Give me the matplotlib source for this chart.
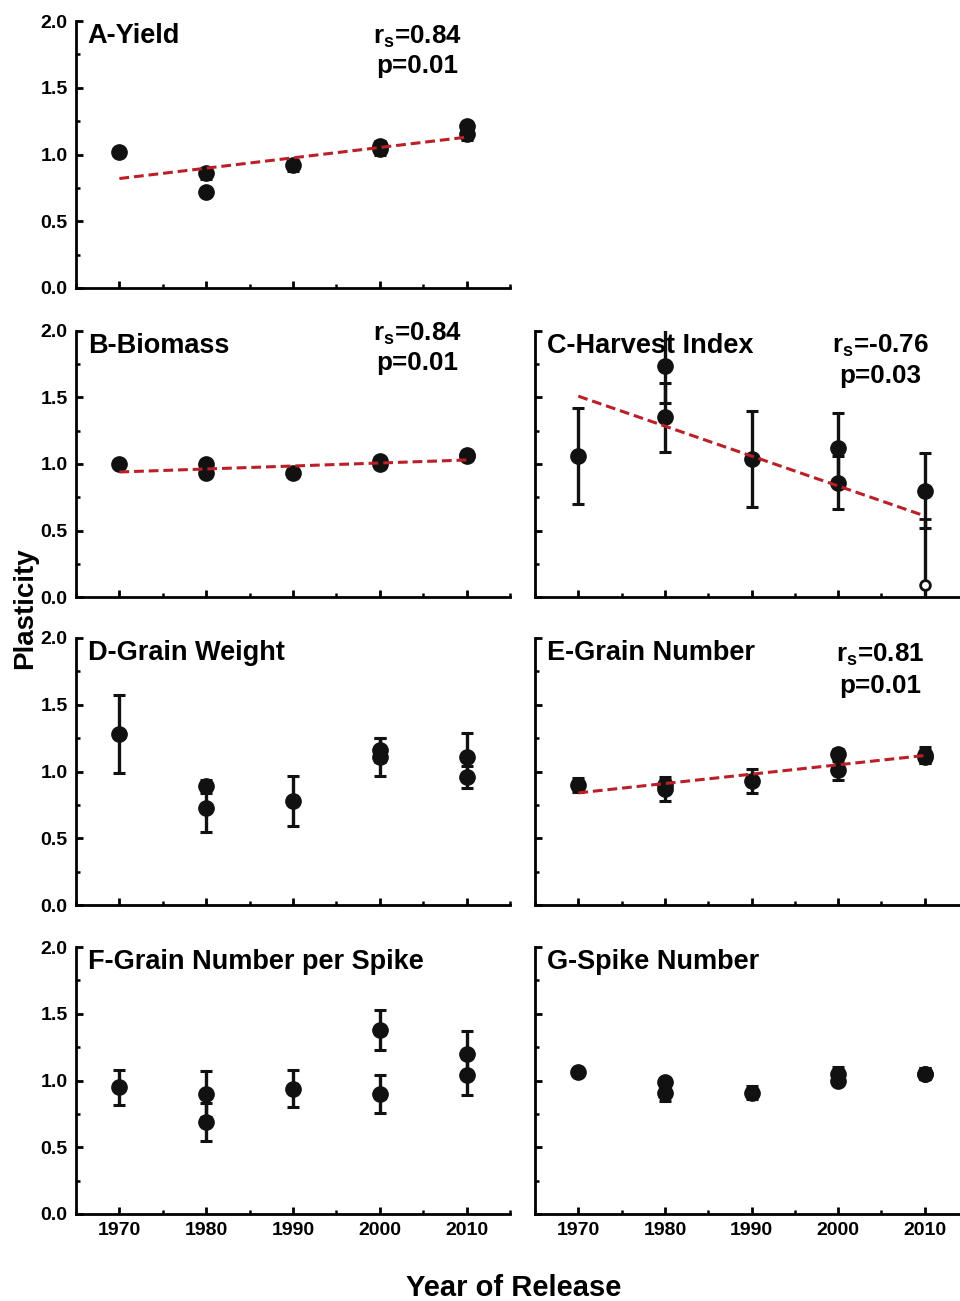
import matplotlib
matplotlib.use('Agg')
import matplotlib.pyplot as plt
from matplotlib.ticker import MultipleLocator

plt.rcParams['font.family'] = ['Liberation Sans', 'DejaVu Sans']
plt.rcParams['font.weight'] = 'bold'
plt.rcParams['mathtext.fontset'] = 'custom'
plt.rcParams['mathtext.rm'] = 'Liberation Sans:bold'
plt.rcParams['mathtext.it'] = 'Liberation Sans:bold'
plt.rcParams['mathtext.bf'] = 'Liberation Sans:bold'

# data (two genotypes per decade in most panels)
A_years = [1970, 1980, 1980, 1990, 2000, 2000, 2010, 2010]
A_vals = [1.02, 0.86, 0.72, 0.92, 1.04, 1.06, 1.21, 1.15]
A_err = [0.02, 0.04, 0.02, 0.04, 0.04, 0.04, 0.03, 0.04]
A_trend = [0.82, 1.13]

B_years = [1970, 1980, 1980, 1990, 2000, 2000, 2010, 2010]
B_vals = [1.00, 1.00, 0.93, 0.93, 1.00, 1.02, 1.07, 1.06]
B_err = [0.02, 0.02, 0.03, 0.03, 0.03, 0.02, 0.03, 0.03]
B_trend = [0.94, 1.03]

C_years = [1970, 1980, 1980, 1990, 2000, 2000, 2010]
C_vals = [1.06, 1.74, 1.35, 1.04, 1.12, 0.86, 0.80]
C_err = [0.36, 0.28, 0.26, 0.36, 0.26, 0.20, 0.28]
C_open_years = [2010]
C_open_vals = [0.09]
C_open_err = [0.50]
C_trend = [1.51, 0.61]

D_years = [1970, 1980, 1980, 1990, 2000, 2000, 2010, 2010]
D_vals = [1.28, 0.89, 0.73, 0.78, 1.16, 1.11, 1.11, 0.96]
D_err = [0.29, 0.05, 0.18, 0.19, 0.09, 0.14, 0.18, 0.08]

E_years = [1970, 1980, 1980, 1990, 2000, 2000, 2010, 2010]
E_vals = [0.90, 0.87, 0.90, 0.93, 1.13, 1.01, 1.12, 1.11]
E_err = [0.05, 0.09, 0.04, 0.09, 0.04, 0.07, 0.06, 0.05]
E_trend = [0.84, 1.12]

F_years = [1970, 1980, 1980, 1990, 2000, 2000, 2010, 2010]
F_vals = [0.95, 0.90, 0.69, 0.94, 1.38, 0.90, 1.20, 1.04]
F_err = [0.13, 0.17, 0.14, 0.135, 0.15, 0.14, 0.17, 0.15]

G_years = [1970, 1980, 1980, 1990, 2000, 2000, 2010, 2010]
G_vals = [1.06, 0.99, 0.91, 0.91, 1.05, 1.00, 1.05, 1.05]
G_err = [0.01, 0.02, 0.06, 0.05, 0.05, 0.03, 0.04, 0.04]

trend_years = [1970, 2010]
year_ticks = [1970, 1980, 1990, 2000, 2010]

fig = plt.figure(figsize=(9.6, 13.01), dpi=100)

W, H = 960.0, 1301.0
left_x = (76, 510)
right_x = (535, 968)
rows = [(21, 288), (331, 597), (638, 905), (947, 1214)]


def make_ax(xr, yr):
    ax = fig.add_axes([xr[0] / W, 1 - yr[1] / H, (xr[1] - xr[0]) / W, (yr[1] - yr[0]) / H])
    ax.set_xlim(1965, 2015)
    ax.set_ylim(0, 2.0)
    for s in ['top', 'right']:
        ax.spines[s].set_visible(False)
    for s in ['left', 'bottom']:
        ax.spines[s].set_linewidth(2.0)
    ax.set_xticks(year_ticks)
    ax.xaxis.set_minor_locator(MultipleLocator(5))
    ax.yaxis.set_major_locator(MultipleLocator(0.5))
    ax.yaxis.set_minor_locator(MultipleLocator(0.25))
    ax.tick_params(which='major', direction='in', length=5, width=2.0,
                   labelsize=14, pad=6)
    ax.tick_params(which='minor', direction='in', length=3, width=1.8)
    ax.yaxis.set_major_formatter(plt.FormatStrFormatter('%.1f'))
    return ax


def draw(ax, years, vals, err):
    ax.errorbar(years, vals, yerr=err, fmt='o', color='#111111', ms=11,
                elinewidth=2.4, capsize=4, capthick=2.2, zorder=3)


def trend(ax, vals):
    ax.plot(trend_years, vals, ls=(0, (3.2, 1.6)), color='#bb1f27', lw=2.2, zorder=4)


def label(ax, txt):
    ax.text(0.027, 0.945, txt, transform=ax.transAxes, fontsize=19.5,
            fontweight='bold', va='center', ha='left', zorder=5)


def stats(ax, x, y1, y2, r, p):
    ax.text(x, y1, r'$\mathrm{r_s}$=' + r, transform=ax.transAxes, fontsize=18.7,
            fontweight='bold', ha='center', va='center', zorder=5)
    ax.text(x, y2, 'p=' + p, transform=ax.transAxes, fontsize=18.7,
            fontweight='bold', ha='center', va='center', zorder=5)


axA = make_ax(left_x, rows[0])
draw(axA, A_years, A_vals, A_err)
trend(axA, A_trend)
label(axA, 'A-Yield')
stats(axA, 0.786, 0.94, 0.83, '0.84', '0.01')

axB = make_ax(left_x, rows[1])
draw(axB, B_years, B_vals, B_err)
trend(axB, B_trend)
label(axB, 'B-Biomass')
stats(axB, 0.786, 0.99, 0.88, '0.84', '0.01')

axC = make_ax(right_x, rows[1])
draw(axC, C_years, C_vals, C_err)
axC.errorbar(C_open_years, C_open_vals, yerr=C_open_err, fmt='o', color='#111111',
             mfc='white', mec='#111111', mew=2, ms=7, elinewidth=2.4, capsize=4,
             capthick=2.2, zorder=3)
trend(axC, C_trend)
label(axC, 'C-Harvest Index')
stats(axC, 0.797, 0.945, 0.83, '-0.76', '0.03')

axD = make_ax(left_x, rows[2])
draw(axD, D_years, D_vals, D_err)
label(axD, 'D-Grain Weight')

axE = make_ax(right_x, rows[2])
draw(axE, E_years, E_vals, E_err)
trend(axE, E_trend)
label(axE, 'E-Grain Number')
stats(axE, 0.797, 0.935, 0.82, '0.81', '0.01')

axF = make_ax(left_x, rows[3])
draw(axF, F_years, F_vals, F_err)
label(axF, 'F-Grain Number per Spike')

axG = make_ax(right_x, rows[3])
draw(axG, G_years, G_vals, G_err)
label(axG, 'G-Spike Number')

for ax in [axA, axB, axC, axD, axE]:
    ax.tick_params(labelbottom=False)
for ax in [axC, axE, axG]:
    ax.tick_params(labelleft=False)

fig.text(25 / W, 1 - 608 / H, 'Plasticity', rotation=90, fontsize=20,
         fontweight='bold', ha='center', va='center')
fig.text(514 / W, 1 - 1288 / H, 'Year of Release', fontsize=21,
         fontweight='bold', ha='center', va='center')

fig.savefig('out.png', dpi=100)
